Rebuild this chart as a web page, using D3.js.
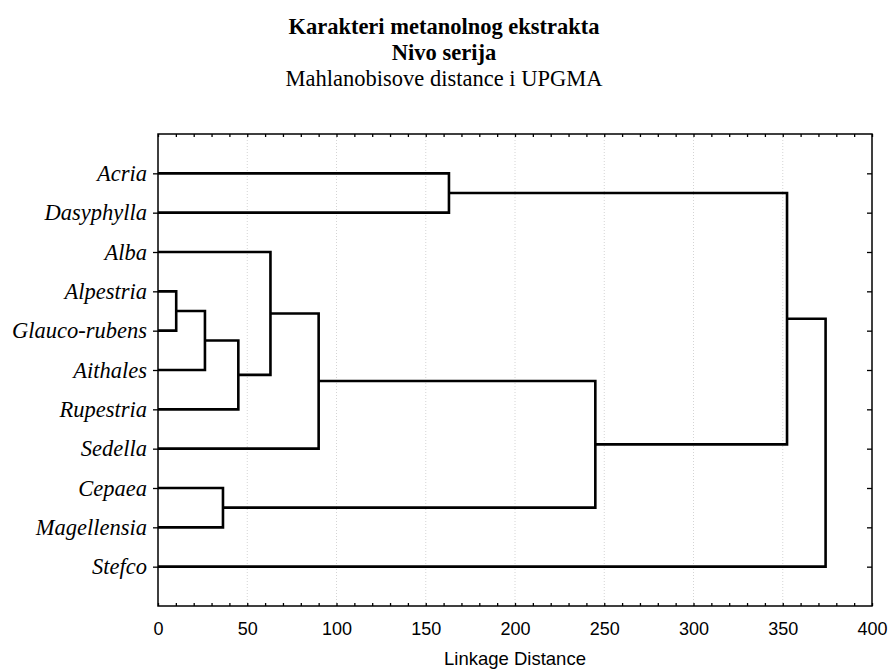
<!DOCTYPE html>
<html>
<head>
<meta charset="utf-8">
<script src="https://cdn.jsdelivr.net/npm/d3@7"></script>
<style>
  body { margin: 0; background: #fff; }
  .leaf text { font-family: "Liberation Serif", "Times New Roman", serif; font-style: italic; font-size: 22.5px; }
  .num text { font-family: "Liberation Sans", Arial, sans-serif; font-size: 18px; }
</style>
</head>
<body>
<script>
// leaves, top to bottom
var leaves = ["Acria", "Dasyphylla", "Alba", "Alpestria", "Glauco-rubens", "Aithales",
              "Rupestria", "Sedella", "Cepaea", "Magellensia", "Stefco"];

// joins: index < 11 is a leaf, index >= 11 is the cluster made by join (index - 11)
var joinLeft   = [3,  11, 8,  12, 2,  15, 0,   16,  17,  19];
var joinRight  = [4,  5,  9,  6,  14, 7,  1,   13,  18,  10];
var joinHeight = [10.2, 26.3, 36.4, 45, 63, 90, 163, 245, 352.4, 374];

var xTicks = [0, 50, 100, 150, 200, 250, 300, 350, 400];

var titleLines = ["Karakteri metanolnog ekstrakta", "Nivo serija", "Mahlanobisove distance i UPGMA"];
var xLabel = "Linkage Distance";

var W = 888, H = 669;
var mLeft = 158, mRight = 872, mTop = 134, mBottom = 606;

var svg = d3.select("body").append("svg")
    .attr("width", W)
    .attr("height", H)

var x = d3.scaleLinear().domain([0, 400]).range([mLeft, mRight])
var y = d3.scalePoint().domain(leaves).range([mTop, mBottom]).padding(1)

// titles
svg.selectAll("text.title")
    .data(titleLines)
    .enter().append("text")
    .attr("class", "title")
    .attr("x", W / 2)
    .attr("y", function(d, i) { return 33.5 + i * 26 })
    .attr("text-anchor", "middle")
    .style("font-family", "'Liberation Serif', 'Times New Roman', serif")
    .style("font-size", "22.5px")
    .style("font-weight", function(d, i) { return i < 2 ? "bold" : "normal" })
    .text(function(d) { return d })

// dotted grid
svg.append("g")
    .selectAll("line")
    .data(xTicks.slice(1, -1))
    .enter().append("line")
    .attr("x1", function(d) { return x(d) })
    .attr("x2", function(d) { return x(d) })
    .attr("y1", mTop)
    .attr("y2", mBottom)
    .attr("stroke", "#d4d4d4")
    .attr("stroke-width", 1)
    .attr("stroke-dasharray", "1,2")

// axes
var minor = d3.range(0, 401, 10)

svg.append("g")
    .attr("class", "num")
    .attr("transform", "translate(0," + mBottom + ")")
    .call(d3.axisBottom(x).tickValues(minor).tickSize(-3).tickPadding(16)
        .tickFormat(function(d) { return d % 50 === 0 ? d : "" }))

svg.append("g")
    .attr("transform", "translate(0," + mTop + ")")
    .call(d3.axisTop(x).tickValues(minor).tickSize(-3).tickFormat(""))

svg.append("g")
    .attr("class", "leaf")
    .attr("transform", "translate(" + mLeft + ",0)")
    .call(d3.axisLeft(y).tickSize(5).tickPadding(6))

svg.append("g")
    .attr("transform", "translate(" + mRight + ",0)")
    .call(d3.axisRight(y).tickSize(-5).tickFormat(""))

svg.selectAll(".domain").remove()
svg.selectAll(".tick line").attr("stroke", "#000").attr("stroke-width", 1.3)
svg.selectAll(".tick text").attr("fill", "#000")

// frame
svg.append("rect")
    .attr("x", mLeft)
    .attr("y", mTop)
    .attr("width", mRight - mLeft)
    .attr("height", mBottom - mTop)
    .attr("fill", "none")
    .attr("stroke", "#000")
    .attr("stroke-width", 1.5)

// cluster positions
var nodeY = leaves.map(function(d) { return y(d) })
var nodeH = leaves.map(function() { return 0 })
var joins = joinHeight.map(function(h, i) {
  var a = joinLeft[i], b = joinRight[i]
  nodeY.push((nodeY[a] + nodeY[b]) / 2)
  nodeH.push(h)
  return { a: a, b: b, h: h }
})

svg.append("g")
    .selectAll("path")
    .data(joins)
    .enter().append("path")
    .attr("d", function(d) {
      return "M" + x(nodeH[d.a]) + "," + nodeY[d.a] +
             "H" + x(d.h) +
             "V" + nodeY[d.b] +
             "H" + x(nodeH[d.b])
    })
    .attr("fill", "none")
    .attr("stroke", "#000")
    .attr("stroke-width", 2.6)
    .attr("stroke-linejoin", "miter")

// x label
svg.append("text")
    .attr("x", (mLeft + mRight) / 2)
    .attr("y", 665)
    .attr("text-anchor", "middle")
    .style("font-family", "'Liberation Sans', Arial, sans-serif")
    .style("font-size", "18.5px")
    .text(xLabel)
</script>
</body>
</html>
